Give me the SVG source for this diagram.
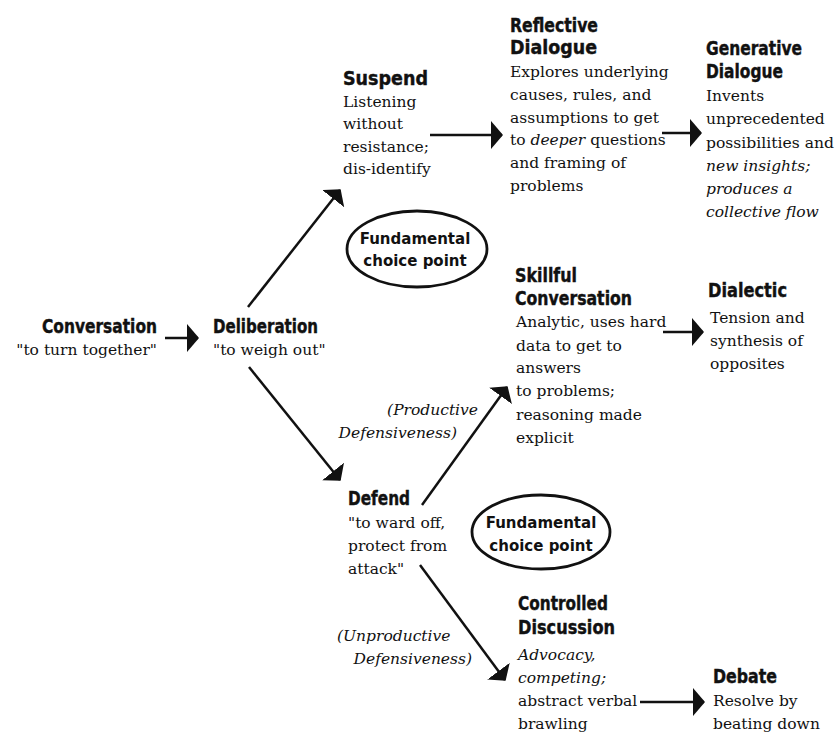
<svg xmlns="http://www.w3.org/2000/svg" width="835" height="735" viewBox="0 0 835 735">
<defs>
<style>
.t{font-family:"DejaVu Sans Condensed","Liberation Sans Narrow",sans-serif;font-weight:bold;font-size:20px;fill:#111;stroke:#111;stroke-width:0.4}
.b{font-family:"DejaVu Serif","Liberation Serif",serif;font-size:15.5px;fill:#111}
.i{font-style:italic}
.f{font-family:"DejaVu Sans","Liberation Sans",sans-serif;font-weight:bold;font-size:15px;fill:#111;text-anchor:middle}
.c line{stroke:#111;stroke-width:2.5}
.e{fill:none;stroke:#111;stroke-width:2.8}
</style>
<marker id="ah" viewBox="0 0 12 28" refX="11" refY="14" markerWidth="12" markerHeight="28" markerUnits="userSpaceOnUse" orient="auto">
<path d="M0,0 L12,14 L0,28 Z" fill="#111"/>
</marker>
</defs>
<rect width="835" height="735" fill="#fff"/>

<g class="c" id="connectors">
<line x1="165" y1="338" x2="198" y2="338" marker-end="url(#ah)"/>
<line x1="248" y1="307" x2="340" y2="190" marker-end="url(#ah)"/>
<line x1="249" y1="367" x2="340" y2="480" marker-end="url(#ah)"/>
<line x1="430" y1="135" x2="502" y2="135" marker-end="url(#ah)"/>
<line x1="662" y1="133" x2="701" y2="133" marker-end="url(#ah)"/>
<line x1="422" y1="505" x2="507" y2="387" marker-end="url(#ah)"/>
<line x1="663" y1="332" x2="703" y2="332" marker-end="url(#ah)"/>
<line x1="420" y1="565" x2="505" y2="680" marker-end="url(#ah)"/>
<line x1="640" y1="702" x2="704" y2="702" marker-end="url(#ah)"/>
</g>

<g id="conversation">
<text class="t" x="42" y="333" textLength="115" lengthAdjust="spacingAndGlyphs">Conversation</text>
<text class="b" x="157" y="355" text-anchor="end">"to turn together"</text>
</g>
<g id="deliberation">
<text class="t" x="213" y="333" textLength="105" lengthAdjust="spacingAndGlyphs">Deliberation</text>
<text class="b" x="213" y="355">"to weigh out"</text>
</g>
<g id="suspend">
<text class="t" x="343" y="85" textLength="85" lengthAdjust="spacingAndGlyphs">Suspend</text>
<text class="b" x="343" y="107">Listening</text>
<text class="b" x="343" y="129">without</text>
<text class="b" x="343" y="152">resistance;</text>
<text class="b" x="343" y="174">dis-identify</text>
</g>
<g id="choice1">
<ellipse class="e" cx="417" cy="249" rx="70" ry="38"/>
<text class="f" x="415" y="244">Fundamental</text>
<text class="f" x="415" y="266">choice point</text>
</g>
<g id="reflective">
<text class="t" x="510" y="32" textLength="88" lengthAdjust="spacingAndGlyphs">Reflective</text>
<text class="t" x="510" y="54" textLength="87" lengthAdjust="spacingAndGlyphs">Dialogue</text>
<text class="b" x="510" y="77">Explores underlying</text>
<text class="b" x="510" y="100">causes, rules, and</text>
<text class="b" x="510" y="123">assumptions to get</text>
<text class="b" x="510" y="145">to <tspan class="i">deeper</tspan> questions</text>
<text class="b" x="510" y="168">and framing of</text>
<text class="b" x="510" y="191">problems</text>
</g>
<g id="generative">
<text class="t" x="706" y="55" textLength="96" lengthAdjust="spacingAndGlyphs">Generative</text>
<text class="t" x="706" y="78" textLength="77" lengthAdjust="spacingAndGlyphs">Dialogue</text>
<text class="b" x="706" y="101">Invents</text>
<text class="b" x="706" y="124">unprecedented</text>
<text class="b" x="706" y="148" textLength="128" lengthAdjust="spacingAndGlyphs">possibilities and</text>
<text class="b i" x="706" y="171">new insights;</text>
<text class="b i" x="706" y="194">produces a</text>
<text class="b i" x="706" y="217">collective flow</text>
</g>
<g id="skillful">
<text class="t" x="515" y="282" textLength="62" lengthAdjust="spacingAndGlyphs">Skillful</text>
<text class="t" x="515" y="305" textLength="117" lengthAdjust="spacingAndGlyphs">Conversation</text>
<text class="b" x="516" y="327">Analytic, uses hard</text>
<text class="b" x="516" y="351">data to get to</text>
<text class="b" x="516" y="373">answers</text>
<text class="b" x="516" y="396">to problems;</text>
<text class="b" x="516" y="420">reasoning made</text>
<text class="b" x="516" y="443">explicit</text>
</g>
<g id="dialectic">
<text class="t" x="708" y="297" textLength="79" lengthAdjust="spacingAndGlyphs">Dialectic</text>
<text class="b" x="710" y="323">Tension and</text>
<text class="b" x="710" y="346">synthesis of</text>
<text class="b" x="710" y="369">opposites</text>
</g>
<g id="productive">
<text class="b i" x="478" y="415" text-anchor="end">(Productive</text>
<text class="b i" x="457" y="438" text-anchor="end">Defensiveness)</text>
</g>
<g id="defend">
<text class="t" x="348" y="505" textLength="62" lengthAdjust="spacingAndGlyphs">Defend</text>
<text class="b" x="348" y="528">"to ward off,</text>
<text class="b" x="348" y="551">protect from</text>
<text class="b" x="348" y="574">attack"</text>
</g>
<g id="choice2">
<ellipse class="e" cx="541" cy="532" rx="69" ry="37"/>
<text class="f" x="541" y="528">Fundamental</text>
<text class="f" x="541" y="551">choice point</text>
</g>
<g id="unproductive">
<text class="b i" x="337" y="641">(Unproductive</text>
<text class="b i" x="472" y="664" text-anchor="end">Defensiveness)</text>
</g>
<g id="controlled">
<text class="t" x="518" y="610" textLength="90" lengthAdjust="spacingAndGlyphs">Controlled</text>
<text class="t" x="518" y="634" textLength="97" lengthAdjust="spacingAndGlyphs">Discussion</text>
<text class="b i" x="518" y="660">Advocacy,</text>
<text class="b i" x="518" y="683">competing;</text>
<text class="b" x="518" y="706">abstract verbal</text>
<text class="b" x="518" y="729">brawling</text>
</g>
<g id="debate">
<text class="t" x="713" y="683" textLength="64" lengthAdjust="spacingAndGlyphs">Debate</text>
<text class="b" x="713" y="706">Resolve by</text>
<text class="b" x="713" y="729">beating down</text>
</g>
</svg>
